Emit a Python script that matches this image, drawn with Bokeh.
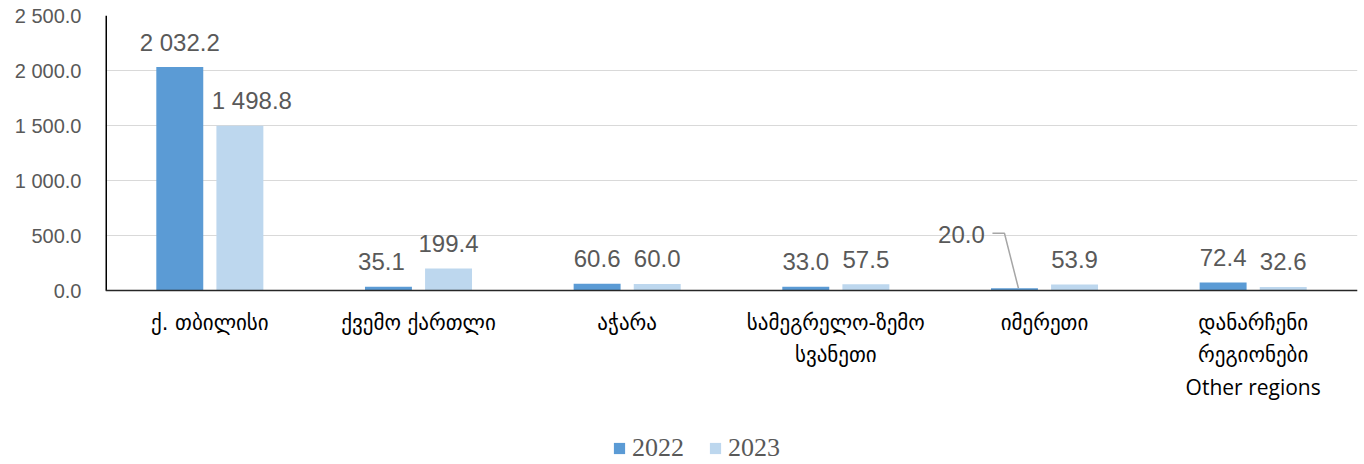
from bokeh.plotting import figure
from bokeh.models import (FactorRange, Range1d, FixedTicker, ColumnDataSource,
                          Legend, LegendItem)
from bokeh.transform import dodge
from bokeh.core.properties import value
from bokeh.embed import file_html
from bokeh.resources import INLINE

# ---- data ----
categories = ["ქ. თბილისი", "ქვემო ქართლი", "აჭარა",
              "სამეგრელო-ზემო\nსვანეთი", "იმერეთი",
              "დანარჩენი\nრეგიონები\nOther regions"]
years = ["2022", "2023"]
v2022 = [2032.2, 35.1, 60.6, 33.0, 20.0, 72.4]
v2023 = [1498.8, 199.4, 60.0, 57.5, 53.9, 32.6]
y_ticks = [0, 500, 1000, 1500, 2000, 2500]
y_tick_labels = ["0.0", "500.0", "1 000.0", "1 500.0", "2 000.0", "2 500.0"]

# ---- style ----
C22, C23 = "#5B9BD5", "#BDD7EE"
TXT = "#595959"
W, H = 1364, 464
BL, BR, BT = 105, 7, 15
FW = W - BL - BR
FH_ALL = H - BT            # frame reaches the bottom of the canvas
FH = 275                   # pixels used by the value axis 0..YMAX
YMAX = 2500
ppv = FH / YMAX
ppc = FW / len(categories)
YMIN = -(FH_ALL - FH) / ppv
OFF = 0.144
BW = 0.225

# label nudges in screen px (x right, y down)
dx22 = [0, -7, 0, 0, -53, 0]
dy22 = [1, 0, 0, 0, -29, 0]
dx23 = [12, 0, 0, 0, 0, 0]
dy23 = [0, 0, 0, 0, 0, 0]


def fmt(v):
    return f"{v:,.1f}".replace(",", " ")


src = ColumnDataSource(dict(
    cat=categories, v22=v2022, v23=v2023,
    t22=[fmt(v) for v in v2022], t23=[fmt(v) for v in v2023],
    dx22=dx22, dy22=[d - 25 for d in dy22],
    dx23=dx23, dy23=[d - 25 for d in dy23],
))

p = figure(x_range=FactorRange(*categories), y_range=Range1d(YMIN, YMAX),
           width=W, height=H,
           output_backend="svg", toolbar_location=None,
           min_border_left=BL, min_border_right=BR, min_border_top=BT,
           min_border_bottom=0)
p.outline_line_color = None
p.background_fill_color = "white"
p.border_fill_color = "white"

r22 = p.vbar(x=dodge("cat", -OFF, range=p.x_range), top="v22", bottom=0,
             width=BW, source=src, fill_color=C22, line_color=None)
r23 = p.vbar(x=dodge("cat", OFF, range=p.x_range), top="v23", bottom=0,
             width=BW, source=src, fill_color=C23, line_color=None)

# axis lines (value axis 0..YMAX and category baseline)
p.segment(x0=[0], y0=[0], x1=[0], y1=[YMAX], line_color="black", line_width=3)
p.segment(x0=[0], y0=[0], x1=[len(categories)], y1=[0],
          line_color="#262626", line_width=1.5)

lab_font = value("Liberation Sans")
p.text(x=dodge("cat", -OFF, range=p.x_range), y="v22", text="t22", source=src,
       x_offset="dx22", y_offset="dy22", text_align="center",
       text_baseline="middle", text_font=lab_font, text_font_size="24px",
       text_color=TXT)
p.text(x=dodge("cat", OFF, range=p.x_range), y="v23", text="t23", source=src,
       x_offset="dx23", y_offset="dy23", text_align="center",
       text_baseline="middle", text_font=lab_font, text_font_size="24px",
       text_color=TXT)

# leader line for the small 2022 value of Imereti
i = 4
bx = i + 0.5 - OFF
by = v2022[i]
lead_px = [(-22, -55), (-10, -55), (4, 0)]
p.line(x=[bx + a / ppc for a, b in lead_px],
       y=[by - b / ppv for a, b in lead_px],
       line_color="#A6A6A6", line_width=1.5)

# category labels, one text per line (Georgian / Latin fonts)
geo = dict(x=[], y=[], t=[], o=[])
lat = dict(x=[], y=[], t=[], o=[])
for ci, cat in enumerate(categories):
    for li, line in enumerate(cat.split("\n")):
        d = lat if line.isascii() else geo
        d["x"].append(ci + 0.5)
        d["y"].append(0)
        d["t"].append(line)
        d["o"].append(32 + 32 * li)
for d, font in ((geo, "DejaVu Sans"), (lat, "Open Sans")):
    p.text(x="x", y="y", text="t", y_offset="o", source=ColumnDataSource(d),
           text_align="center", text_baseline="middle",
           text_font=value(font), text_font_size="21px", text_color="black")

# value axis
p.xaxis.visible = False
p.yaxis.ticker = FixedTicker(ticks=y_ticks)
p.yaxis.major_label_overrides = {t: l for t, l in zip(y_ticks, y_tick_labels)}
p.yaxis.major_label_text_font = "Liberation Sans"
p.yaxis.major_label_text_font_size = "20px"
p.yaxis.major_label_text_color = TXT
p.yaxis.major_tick_line_color = None
p.yaxis.major_tick_out = 0
p.yaxis.minor_tick_line_color = None
p.yaxis.axis_line_color = None
p.yaxis.major_label_standoff = 24

p.xgrid.grid_line_color = None
p.ygrid.grid_line_color = "#D9D9D9"
p.ygrid.grid_line_width = 1.2

legend = Legend(items=[LegendItem(label=years[0], renderers=[r22]),
                       LegendItem(label=years[1], renderers=[r23])],
                orientation="horizontal", location=(507, 1),
                label_text_font="Liberation Serif", label_text_font_size="26px",
                label_text_color=TXT, glyph_width=14, glyph_height=14,
                label_standoff=6, spacing=24, padding=0, margin=0,
                border_line_color=None, background_fill_alpha=0)
p.add_layout(legend, "center")

open("out.html", "w").write(file_html(p, INLINE))
